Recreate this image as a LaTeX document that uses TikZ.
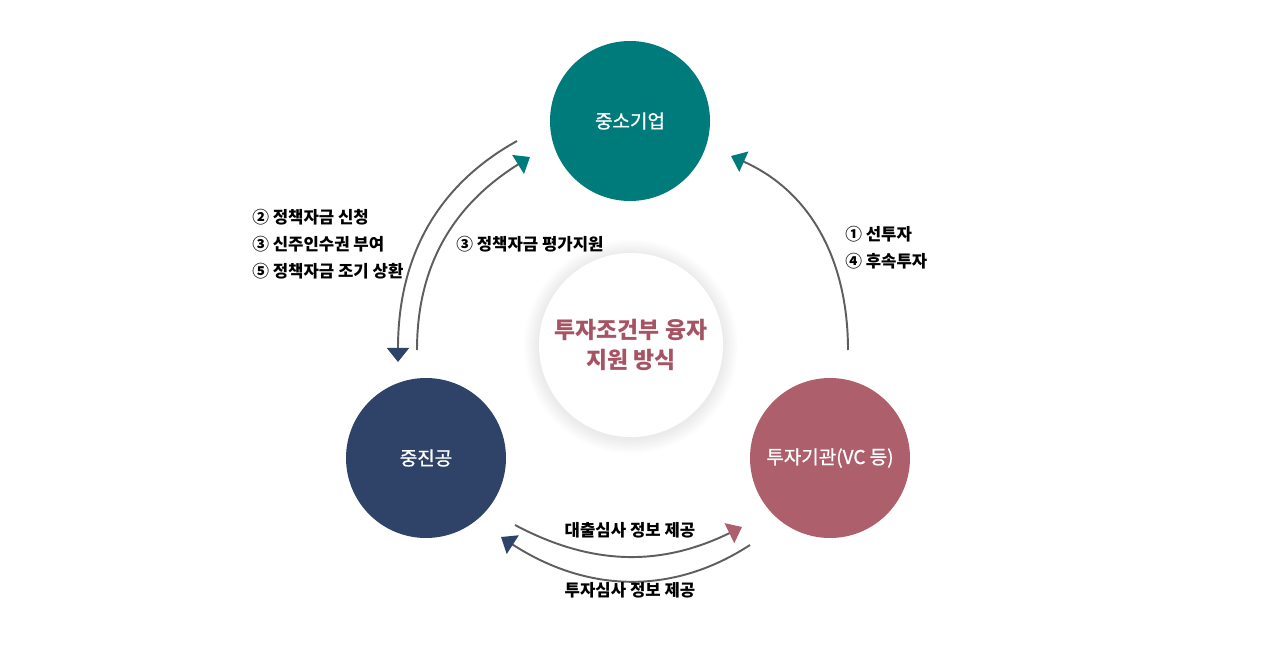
\documentclass[tikz,border=0pt]{standalone}
\usepackage{fontspec}
\setmainfont{Noto Sans CJK KR}
\newfontfamily\medfont{Noto Sans CJK KR}[FakeBold=0.9]
\usetikzlibrary{arrows.meta,calc}

\definecolor{sbteal}{HTML}{007B7B}
\definecolor{sbnavy}{HTML}{2F4369}
\definecolor{sbrose}{HTML}{AD5F6B}
\definecolor{sbtitle}{HTML}{A65464}
\definecolor{sbline}{HTML}{5E5E5E}

\begin{document}
\begin{tikzpicture}[
	party/.style={shape=circle, minimum size=3.2cm, inner sep=0pt, text=white, font=\fontsize{10.8}{13}\medfont},
	hub/.style={shape=circle, minimum size=3.68cm, inner sep=0pt, fill=white, text=sbtitle, align=center, font=\fontsize{13}{17}\selectfont\bfseries},
	flow/.style={draw=sbline, line width=1.1pt},
	note/.style={inner sep=0pt, align=left, font=\fontsize{9.5}{15.3}\selectfont\bfseries}
]
	\useasboundingbox (0,0) rectangle (25.6,13.18);

	% parties
	\node[party, fill=sbteal] (sme) at (12.60,10.76) {중소기업};
	\node[party, fill=sbnavy] (kosmes) at (8.52,4.02) {중진공};
	\node[party, fill=sbrose] (vc) at (16.60,4.02) {투자기관(VC 등)};

	% soft glow behind the hub
	\coordinate (glow) at (12.62,6.25);
	\foreach \i in {1,...,10}
		\fill[black, opacity=0.009] (glow) circle (1.84+0.03*\i);
	\node[hub] (core) at (12.62,6.28) {투자조건부 융자\\지원 방식};

	% ends of the arcs
	\coordinate (a1) at (10.34,10.36);
	\coordinate (b1) at (7.96,5.94);
	\coordinate (a2) at (8.34,6.18);
	\coordinate (b2) at (10.60,10.04);
	\coordinate (a3) at (16.96,6.18);
	\coordinate (b3) at (14.62,10.06);
	\coordinate (a4) at (10.30,2.68);
	\coordinate (b4) at (14.84,2.64);
	\coordinate (a5) at (15.00,2.28);
	\coordinate (b5) at (10.02,2.44);

	\draw[flow, -{Triangle[width=12.5pt,length=8pt,color=sbnavy]}] (a1) to[out=209,in=90] (b1);
	\draw[flow, -{Triangle[width=12.5pt,length=8pt,color=sbteal]}] (a2) to[out=90,in=212] (b2);
	\draw[flow, -{Triangle[width=12.5pt,length=8pt,color=sbteal]}] (a3) to[out=90,in=-24] (b3);
	\draw[flow, -{Triangle[width=12.5pt,length=8pt,color=sbrose]}] (a4) to[out=-28,in=206] (b4);
	\draw[flow, -{Triangle[width=12.5pt,length=8pt,color=sbnavy]}] (a5) to[out=213,in=-33] (b5);

	% labels
	\node[note, anchor=west] (askL) at (5.04,8.30) {② 정책자금 신청\\③ 신주인수권 부여\\⑤ 정책자금 조기 상환};
	\node[note, anchor=west] (evalL) at (9.12,8.30) {③ 정책자금 평가지원};
	\node[note, anchor=west] (invL) at (16.90,8.23) {① 선투자\\④ 후속투자};
	\node[note] (loanL) at (12.60,2.58) {대출심사 정보 제공};
	\node[note] (dealL) at (12.60,1.38) {투자심사 정보 제공};
\end{tikzpicture}
\end{document}
